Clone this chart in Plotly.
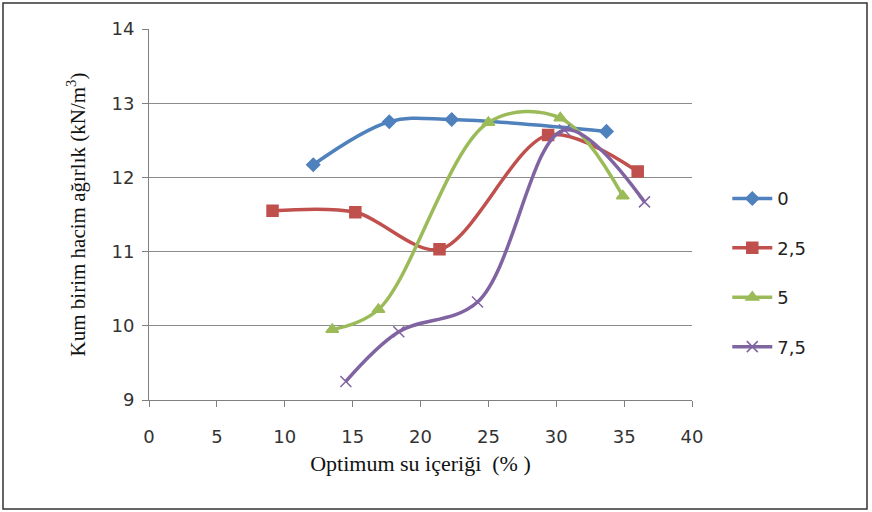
import plotly.graph_objects as go

x_0 = [12.1, 17.7, 22.3, 33.7]
y_0 = [12.17, 12.75, 12.78, 12.62]
x_25 = [9.1, 15.2, 21.4, 29.4, 36.0]
y_25 = [11.55, 11.53, 11.03, 12.57, 12.08]
x_5 = [13.5, 16.9, 25.0, 30.3, 34.9]
y_5 = [9.95, 10.22, 12.74, 12.8, 11.75]
x_75 = [14.5, 18.4, 24.2, 30.6, 36.5]
y_75 = [9.25, 9.92, 10.32, 12.64, 11.67]
names = ["0", "2,5", "5", "7,5"]

colors = ["#4F81BD", "#C0504D", "#9BBB59", "#8064A2"]
symbols = ["diamond", "square", "triangle-up", "x-thin"]
sizes = [10, 11, 11, 11]
smooth = [1.0, 0.9, 1.0, 1.0]

fig = go.Figure()
for i, (xs, ys) in enumerate([(x_0, y_0), (x_25, y_25), (x_5, y_5), (x_75, y_75)]):
    fig.add_trace(go.Scatter(
        x=xs, y=ys, name=names[i], mode="lines+markers",
        line=dict(color=colors[i], width=3.5, shape="spline", smoothing=smooth[i]),
        marker=dict(symbol=symbols[i], size=sizes[i], color=colors[i],
                    line=dict(color=colors[i], width=1.5)),
        legendgroup=str(i),
    ))

fig.update_layout(
    width=872, height=512,
    margin=dict(l=149, r=180, t=29, b=112),
    paper_bgcolor="white", plot_bgcolor="white",
    showlegend=True,
    legend=dict(x=1.065, y=0.343, xanchor="left", yanchor="middle",
                font=dict(family="DejaVu Sans", size=18, color="#222"),
                tracegroupgap=23, itemwidth=40, bgcolor="rgba(0,0,0,0)"),
    xaxis=dict(range=[0, 40], tickvals=list(range(0, 41, 5)),
               showgrid=False, showline=True, linecolor="#808080", linewidth=1,
               ticks="outside", ticklen=6, tickcolor="#808080",
               ticklabelstandoff=14,
               tickfont=dict(family="DejaVu Sans", size=18, color="#333"),
               title=dict(text="Optimum su içeriği  (% )",
                          font=dict(family="Liberation Serif", size=22, color="#111"),
                          standoff=10),
               zeroline=False, automargin=False),
    yaxis=dict(range=[9, 14], tickvals=[9, 10, 11, 12, 13, 14],
               showgrid=True, gridcolor="#8c8c8c", gridwidth=1,
               showline=True, linecolor="#808080", linewidth=1,
               ticks="outside", ticklen=6, tickcolor="#808080",
               ticklabelstandoff=4,
               tickfont=dict(family="DejaVu Sans", size=18, color="#333"),
               title=dict(text="Kum birim hacim ağırlık (kN/m<sup>3</sup>)",
                          font=dict(family="Liberation Serif", size=21, color="#111"),
                          standoff=20),
               zeroline=False, automargin=False),
    shapes=[dict(type="rect", xref="paper", yref="paper",
                 x0=(3 - 149) / 543, x1=(867 - 149) / 543,
                 y0=(400 - 509) / 371, y1=(400 - 3) / 371,
                 line=dict(color="#333", width=1.5), fillcolor="rgba(0,0,0,0)",
                 layer="below")],
)

fig.write_html("out.html", post_script="document.body.style.margin='0';",
               config={"displayModeBar": False})
